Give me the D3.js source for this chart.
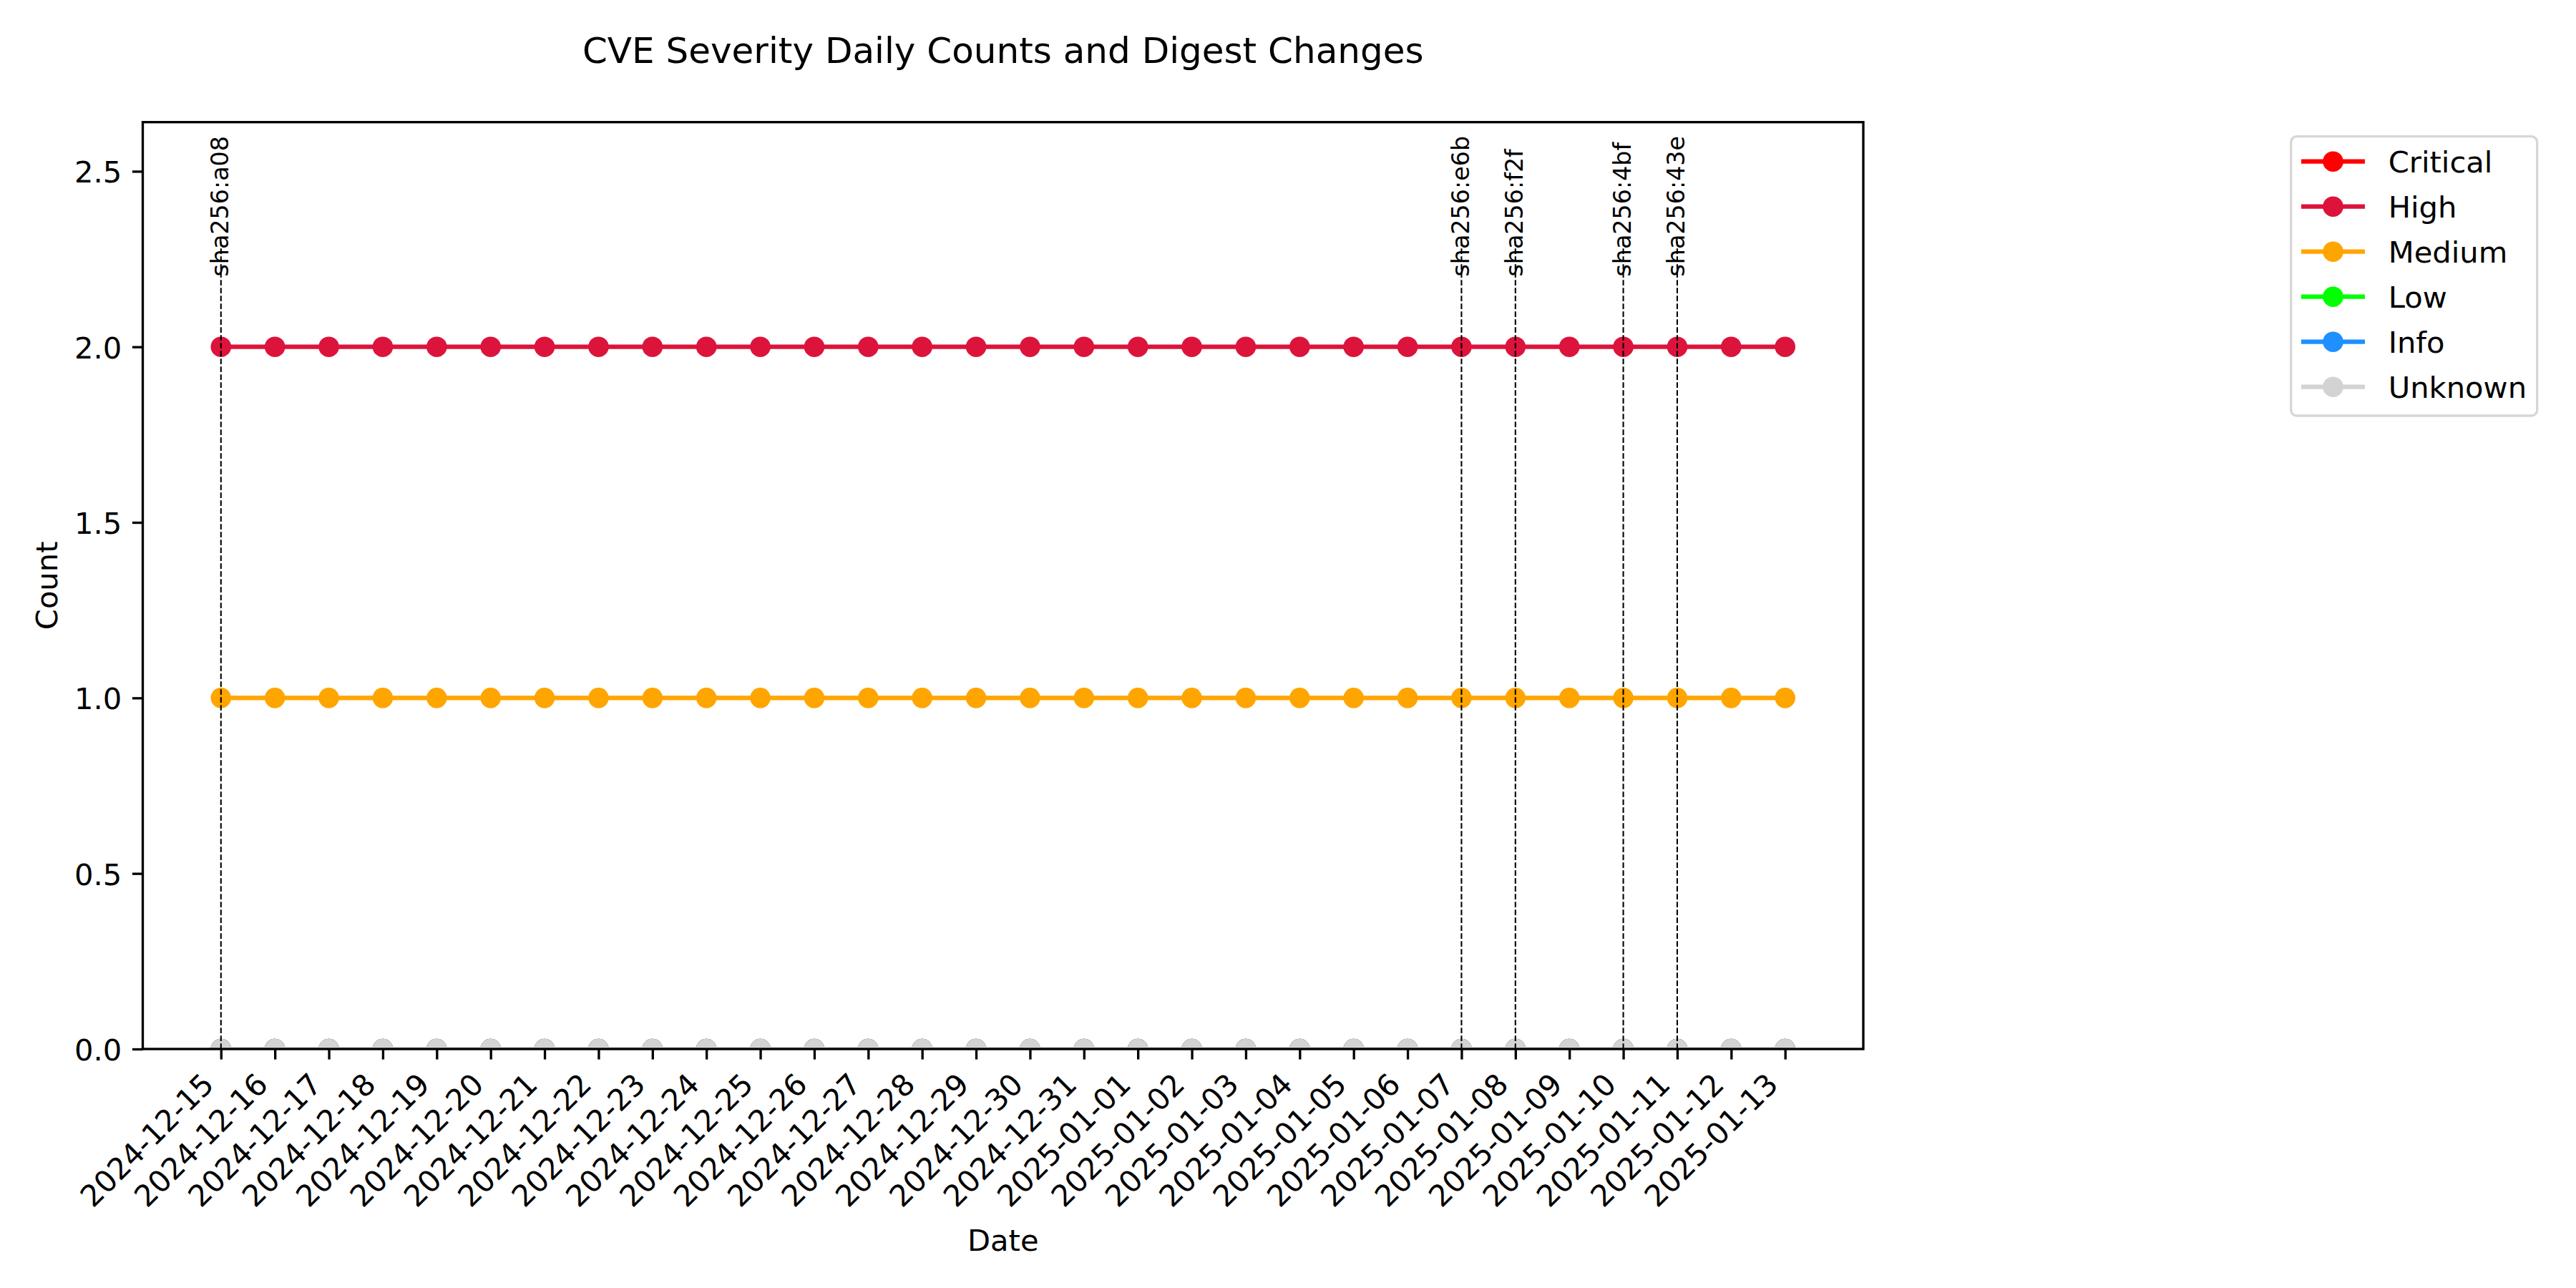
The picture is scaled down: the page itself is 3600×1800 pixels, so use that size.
<!DOCTYPE html>
<html>
<head>
<meta charset="utf-8">
<script src="https://cdn.jsdelivr.net/npm/d3@7"></script>
<style>
  html, body { margin: 0; padding: 0; background: #ffffff; }
  svg { display: block; }
</style>
</head>
<body>
<div id="chart"></div>
<script>
// ---------------- DATA ----------------
const dates = [
  "2024-12-15","2024-12-16","2024-12-17","2024-12-18","2024-12-19","2024-12-20",
  "2024-12-21","2024-12-22","2024-12-23","2024-12-24","2024-12-25","2024-12-26",
  "2024-12-27","2024-12-28","2024-12-29","2024-12-30","2024-12-31","2025-01-01",
  "2025-01-02","2025-01-03","2025-01-04","2025-01-05","2025-01-06","2025-01-07",
  "2025-01-08","2025-01-09","2025-01-10","2025-01-11","2025-01-12","2025-01-13"
];
const criticalCounts = [0,0,0,0,0,0,0,0,0,0,0,0,0,0,0,0,0,0,0,0,0,0,0,0,0,0,0,0,0,0];
const highCounts     = [2,2,2,2,2,2,2,2,2,2,2,2,2,2,2,2,2,2,2,2,2,2,2,2,2,2,2,2,2,2];
const mediumCounts   = [1,1,1,1,1,1,1,1,1,1,1,1,1,1,1,1,1,1,1,1,1,1,1,1,1,1,1,1,1,1];
const lowCounts      = [0,0,0,0,0,0,0,0,0,0,0,0,0,0,0,0,0,0,0,0,0,0,0,0,0,0,0,0,0,0];
const infoCounts     = [0,0,0,0,0,0,0,0,0,0,0,0,0,0,0,0,0,0,0,0,0,0,0,0,0,0,0,0,0,0];
const unknownCounts  = [0,0,0,0,0,0,0,0,0,0,0,0,0,0,0,0,0,0,0,0,0,0,0,0,0,0,0,0,0,0];

const severityNames  = ["Critical","High","Medium","Low","Info","Unknown"];
const severityColors = ["#ff0000","#dc143c","#ffa500","#00ff00","#1e90ff","#d3d3d3"];

const digestDates  = ["2024-12-15","2025-01-07","2025-01-08","2025-01-10","2025-01-11"];
const digestLabels = ["sha256:a08","sha256:e6b","sha256:f2f","sha256:4bf","sha256:43e"];

const yTicks = [0, 0.5, 1.0, 1.5, 2.0, 2.5];
const yMax = 2.64;
const digestTextY = 2.2;
const digestLineTop = 2.3;

const titleText = "CVE Severity Daily Counts and Digest Changes";
const xLabel = "Date";
const yLabel = "Count";

// ---------------- LAYOUT ----------------
const W = 3600, H = 1800;
const L = 199.5, R = 2604, T = 170.7, B = 1466;
const FONT = "'DejaVu Sans', 'Liberation Sans', sans-serif";
const tickFs = 41.67;

const parse = d3.timeParse("%Y-%m-%d");
const fmt = d3.timeFormat("%Y-%m-%d");
const xDates = dates.map(parse);
const seriesValues = [criticalCounts, highCounts, mediumCounts, lowCounts, infoCounts, unknownCounts];

const t0 = xDates[0].getTime(), t1 = xDates[xDates.length - 1].getTime();
const padT = (t1 - t0) * 0.05;
const x = d3.scaleTime().domain([new Date(t0 - padT), new Date(t1 + padT)]).range([L, R]);
const y = d3.scaleLinear().domain([0, yMax]).range([B, T]);

const svg = d3.select("#chart").append("svg")
  .attr("width", W).attr("height", H)
  .attr("viewBox", `0 0 ${W} ${H}`)
  .style("font-family", FONT);

svg.append("rect").attr("width", W).attr("height", H).attr("fill", "#fff");

svg.append("defs").append("clipPath").attr("id", "plotclip")
  .append("rect").attr("x", L).attr("y", T).attr("width", R - L).attr("height", B - T);

const plot = svg.append("g").attr("clip-path", "url(#plotclip)");

// series
severityNames.forEach((name, si) => {
  const vals = seriesValues[si];
  const pts = xDates.map((d, i) => [d, vals[i]]);
  const line = d3.line().x(p => x(p[0])).y(p => y(p[1]));
  const g = plot.append("g").attr("class", "series-" + name);
  g.append("path").datum(pts)
    .attr("d", line)
    .attr("fill", "none")
    .attr("stroke", severityColors[si])
    .attr("stroke-width", 6.25)
    .attr("stroke-linejoin", "round")
    .attr("stroke-linecap", "square");
  g.selectAll("circle").data(pts).enter().append("circle")
    .attr("cx", p => x(p[0])).attr("cy", p => y(p[1]))
    .attr("r", 14.3)
    .attr("fill", severityColors[si]);
});

// digest change lines
const digestD = digestDates.map(parse);
plot.selectAll("line.digest").data(digestD).enter().append("line")
  .attr("class", "digest")
  .attr("x1", d => x(d)).attr("x2", d => x(d))
  .attr("y1", y(0)).attr("y2", y(digestLineTop))
  .attr("stroke", "#000")
  .attr("stroke-width", 2.08)
  .attr("stroke-dasharray", "7.7,3.3");

// digest labels
svg.selectAll("text.digest").data(digestD).enter().append("text")
  .attr("class", "digest")
  .attr("transform", (d) => `translate(${x(d) + 10.5},${y(digestTextY)}) rotate(-90)`)
  .attr("text-anchor", "start")
  .attr("font-size", 33.33)
  .attr("fill", "#000")
  .text((d, i) => digestLabels[i]);

// axes
const xAxis = d3.axisBottom(x).tickValues(xDates).tickFormat(fmt)
  .tickSize(14.6).tickPadding(14.6);
const gx = svg.append("g").attr("transform", `translate(0,${B})`).call(xAxis);
gx.select(".domain").remove();
gx.selectAll(".tick line").attr("stroke", "#000").attr("stroke-width", 3.33);
gx.selectAll(".tick text")
  .attr("font-size", tickFs)
  .attr("font-family", FONT)
  .attr("fill", "#000")
  .attr("text-anchor", "end")
  .attr("y", 0).attr("dy", 0)
  .attr("transform", "translate(-8,52) rotate(-45)");

const yAxis = d3.axisLeft(y).tickValues(yTicks).tickFormat(d3.format(".1f"))
  .tickSize(14.6).tickPadding(14.6);
const gy = svg.append("g").attr("transform", `translate(${L},0)`).call(yAxis);
gy.select(".domain").remove();
gy.selectAll(".tick line").attr("stroke", "#000").attr("stroke-width", 3.33);
gy.selectAll(".tick text")
  .attr("font-size", tickFs)
  .attr("font-family", FONT)
  .attr("fill", "#000")
  .attr("dy", "0.37em");

// spines
svg.append("rect")
  .attr("x", L).attr("y", T).attr("width", R - L).attr("height", B - T)
  .attr("fill", "none").attr("stroke", "#000").attr("stroke-width", 3.33);

// title and labels
svg.append("text")
  .attr("x", (L + R) / 2).attr("y", 88)
  .attr("text-anchor", "middle")
  .attr("font-size", 50)
  .attr("fill", "#000")
  .text(titleText);

svg.append("text")
  .attr("x", (L + R) / 2).attr("y", 1748)
  .attr("text-anchor", "middle")
  .attr("font-size", tickFs)
  .attr("fill", "#000")
  .text(xLabel);

svg.append("text")
  .attr("transform", `translate(80,${(T + B) / 2}) rotate(-90)`)
  .attr("text-anchor", "middle")
  .attr("font-size", tickFs)
  .attr("fill", "#000")
  .text(yLabel);

// legend
const lg = svg.append("g");
lg.append("rect")
  .attr("x", 3201.7).attr("y", 190.7)
  .attr("width", 3545.7 - 3201.7).attr("height", 581 - 190.7)
  .attr("rx", 8).attr("ry", 8)
  .attr("fill", "#fff")
  .attr("stroke", "#d6d6d6").attr("stroke-width", 3.33);

const legendRow = d3.scaleLinear().domain([0, 1]).range([225.7, 288.7]);
severityNames.forEach((name, i) => {
  const yy = legendRow(i);
  lg.append("line")
    .attr("x1", 3216).attr("x2", 3305)
    .attr("y1", yy).attr("y2", yy)
    .attr("stroke", severityColors[i]).attr("stroke-width", 6.25);
  lg.append("circle")
    .attr("cx", 3260.5).attr("cy", yy).attr("r", 14.3)
    .attr("fill", severityColors[i]);
  lg.append("text")
    .attr("x", 3337.7).attr("y", yy + 15)
    .attr("font-size", tickFs)
    .attr("fill", "#000")
    .text(name);
});
</script>
</body>
</html>
